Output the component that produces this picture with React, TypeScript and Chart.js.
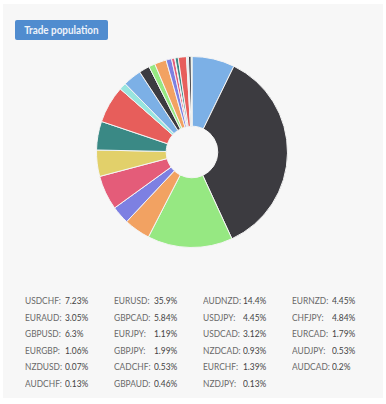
import React, { useEffect, useRef } from "react";
import { Chart, registerables } from "chart.js";

Chart.register(...registerables);

const pairs = [
  "USDCHF", "EURUSD", "AUDNZD", "EURNZD",
  "EURAUD", "GBPCAD", "USDJPY", "CHFJPY",
  "GBPUSD", "EURJPY", "USDCAD", "EURCAD",
  "EURGBP", "GBPJPY", "NZDCAD", "AUDJPY",
  "NZDUSD", "CADCHF", "EURCHF", "AUDCAD",
  "AUDCHF", "GBPAUD", "NZDJPY",
];
const shares = [
  7.23, 35.9, 14.4, 4.45,
  3.05, 5.84, 4.45, 4.84,
  6.3, 1.19, 3.12, 1.79,
  1.06, 1.99, 0.93, 0.53,
  0.07, 0.53, 1.39, 0.2,
  0.13, 0.46, 0.13,
];
const palette = [
  "#7cb0e6", "#3c3b40", "#96e882", "#f2a262", "#7d80e2",
  "#e45c79", "#e2d06a", "#3a8985", "#e75e5b", "#98e5de",
];

const FONT = "Lato, 'Open Sans', sans-serif";

export default function App() {
  const ref = useRef<HTMLCanvasElement>(null);
  useEffect(() => {
    if (!ref.current) return;
    const chart = new Chart(ref.current, {
      type: "doughnut",
      data: {
        labels: pairs,
        datasets: [
          {
            data: shares,
            backgroundColor: pairs.map((_, i) => palette[i % palette.length]),
            borderColor: "#f4f4f4",
            borderWidth: 1,
          },
        ],
      },
      options: {
        animation: false,
        responsive: false,
        cutout: "27%",
        layout: { padding: 0 },
        plugins: { legend: { display: false }, tooltip: { enabled: false } },
      },
    });
    return () => chart.destroy();
  }, []);

  const rows: number[][] = [];
  for (let i = 0; i < pairs.length; i += 4) {
    rows.push([i, i + 1, i + 2, i + 3].filter((j) => j < pairs.length));
  }

  const textStyle = (left: number, top: number, color: string): React.CSSProperties => ({
    position: "absolute",
    left,
    top,
    fontSize: 10,
    color,
    lineHeight: "14px",
    whiteSpace: "nowrap",
    transform: "scaleX(0.84)",
    transformOrigin: "left center",
  });

  return (
    <div
      style={{
        position: "fixed",
        left: 0,
        top: 0,
        width: 386,
        height: 404,
        background: "#ffffff",
        fontFamily: FONT,
      }}
    >
      <div
        style={{
          position: "absolute",
          left: 3,
          top: 4,
          width: 380,
          height: 394,
          background: "#f7f7f7",
        }}
      />
      <div
        style={{
          position: "absolute",
          left: 15,
          top: 20,
          width: 93,
          height: 20,
          background: "#508ccf",
          borderRadius: 2,
          color: "#eef3fa",
          fontSize: 11,
          fontWeight: 700,
          lineHeight: "20px",
          textAlign: "center",
        }}
      >
        <span style={{ display: "inline-block", transform: "scaleX(0.9)" }}>Trade population</span>
      </div>
      <canvas
        ref={ref}
        width={192}
        height={192}
        style={{ position: "absolute", left: 96, top: 56, width: 192, height: 192 }}
      />
      {rows.map((row, r) =>
        row.map((idx, c) => (
          <React.Fragment key={idx}>
            <div style={textStyle(25 + c * 89, 293 + r * 16.5, "#6a6a6a")}>{pairs[idx]}:</div>
            <div style={textStyle(65 + c * 89, 293 + r * 16.5, "#444")}>{shares[idx]}%</div>
          </React.Fragment>
        ))
      )}
    </div>
  );
}
